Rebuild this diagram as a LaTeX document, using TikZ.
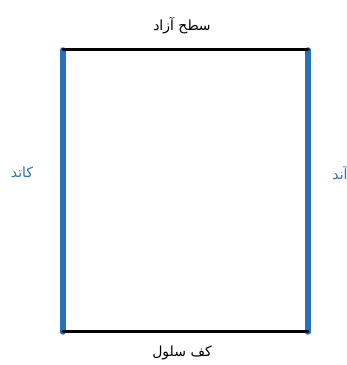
\documentclass[tikz,border=0pt]{standalone}
\usepackage{fontspec}
\TeXXeTstate=1
\newfontfamily\arabicfont[Script=Arabic]{DejaVu Sans}
\definecolor{elecblue}{RGB}{40,112,184}
\tikzset{
  electrode/.style={draw=elecblue,line width=5.5pt,line cap=round},
  boundary/.style={draw=black,line width=3pt,line cap=round},
  lbl/.style={font=\arabicfont\fontsize{14}{16}\selectfont,inner sep=0pt},
  elbl/.style={lbl,text=elecblue}
}
\begin{document}
\begin{tikzpicture}[x=1pt,y=1pt]
\useasboundingbox (0,0) rectangle (347,365);
\coordinate (tl) at (63,315);
\coordinate (tr) at (308,315);
\coordinate (bl) at (63,33);
\coordinate (br) at (308,33);
\draw[electrode] (tl) -- (bl);
\draw[electrode] (tr) -- (br);
\draw[boundary] (tl) -- (tr);
\draw[boundary] (bl) -- (br);
\node[lbl] (top) at (182,339) {\beginR سطح آزاد\endR};
\node[lbl] (bottom) at (182,12) {\beginR کف سلول\endR};
\node[elbl] (cathode) at (22,193) {\beginR کاتد\endR};
\node[elbl] (anode) at (340,192) {\beginR آند\endR};
\end{tikzpicture}
\end{document}
